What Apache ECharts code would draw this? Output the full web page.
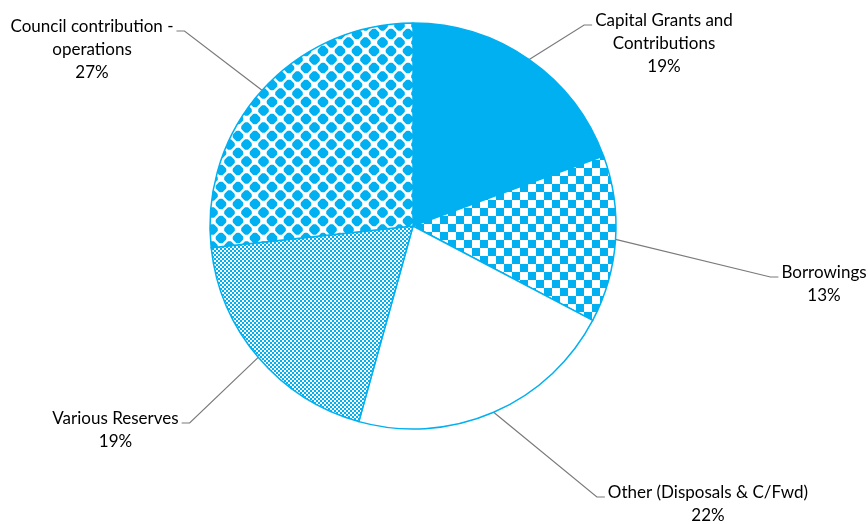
<!DOCTYPE html>
<html><head><meta charset="utf-8">
<script src="https://cdn.jsdelivr.net/npm/echarts@6/dist/echarts.min.js"></script>
<style>html,body{margin:0;padding:0;background:#fff}#c{width:868px;height:524px}</style>
</head><body><div id="c"></div>
<script>
// ---- data ----
const categories = ['Capital Grants and\nContributions', 'Borrowings', 'Other (Disposals & C/Fwd)', 'Various Reserves', 'Council contribution -\noperations'];
const values = [19.4, 13.3, 21.6, 19.0, 26.7];
const fillKinds = ['solid', 'checker', 'white', 'fine', 'diamond'];

// ---- layout (label first-line centres) ----
const labelCenters = [[664, 21], [824, 273], [708, 493], [115.5, 419], [92, 27]];

const BLUE = '#00B0F0';
function tile(w, h, draw) {
  const c = document.createElement('canvas'); c.width = w; c.height = h;
  const g = c.getContext('2d'); g.fillStyle = '#fff'; g.fillRect(0, 0, w, h);
  g.fillStyle = BLUE; draw(g, w, h); return c;
}
const patChecker = tile(16, 16, g => { g.fillRect(0, 0, 8, 8); g.fillRect(8, 8, 8, 8); });
const patFine = tile(4, 4, g => { g.fillRect(0, 0, 2, 2); g.fillRect(2, 2, 2, 2); });
const patDiamond = tile(17, 17, g => {
  const r = 6.8, s = 5.3;
  [[0, 0], [17, 0], [0, 17], [17, 17], [8.5, 8.5]].forEach(([x, y]) => {
    g.save(); g.beginPath(); g.rect(x - s, y - s, 2 * s, 2 * s); g.clip();
    g.beginPath(); g.moveTo(x - r, y); g.lineTo(x, y - r); g.lineTo(x + r, y); g.lineTo(x, y + r); g.closePath(); g.fill();
    g.restore();
  });
});
function fillFor(k) {
  if (k === 'solid') return BLUE;
  if (k === 'white') return '#ffffff';
  const img = k === 'checker' ? patChecker : k === 'fine' ? patFine : patDiamond;
  return { image: img, repeat: 'repeat' };
}

const FONT = 'Lato';
const LH = 23;
const chart = echarts.init(document.getElementById('c'), null, { renderer: 'canvas' });
chart.setOption({
  animation: false,
  backgroundColor: '#fff',
  series: [{
    type: 'pie',
    center: [413, 226],
    radius: 203,
    startAngle: 90,
    clockwise: true,
    silent: true,
    avoidLabelOverlap: false,
    data: categories.map((n, i) => ({ name: n, value: values[i], itemStyle: { color: fillFor(fillKinds[i]) } })),
    itemStyle: { borderColor: BLUE, borderWidth: 1.5 },
    label: {
      show: true, position: 'outside',
      formatter: p => p.name + '\n' + Math.round(p.percent) + '%',
      fontFamily: FONT, fontSize: 17, lineHeight: LH, color: '#000'
    },
    labelLine: { show: true, length: 20, length2: 10, lineStyle: { color: '#7a7a7a', width: 1.2 } },
    labelLayout: function (p) {
      const [cx, cy] = labelCenters[p.dataIndex];
      const w = p.labelRect.width;
      const right = p.align === 'left';
      const ly = cy + 4;
      const endX = right ? cx - w / 2 - 3 : cx + w / 2 + 3;
      const elbowX = right ? endX - 8 : endX + 8;
      return {
        x: cx, y: cy - LH / 2, align: 'center', verticalAlign: 'top',
        labelLinePoints: [p.labelLinePoints[0], [elbowX, ly], [endX, ly]]
      };
    }
  }]
});
</script></body></html>
